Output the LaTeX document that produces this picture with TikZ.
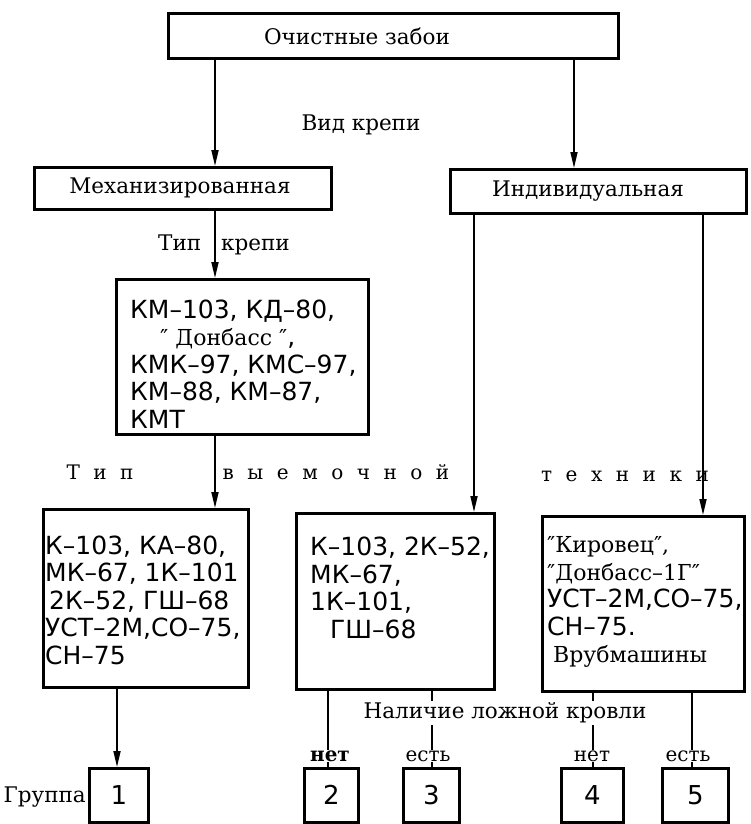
\documentclass[tikz,border=0pt]{standalone}
\usepackage{fontspec}
\setmainfont{DejaVu Serif}
\newfontfamily\lstf{DejaVu Sans}
\usetikzlibrary{arrows.meta}
\newcommand\serw[1]{{\rmfamily\fontsize{22}{27.5}\selectfont #1}}
\newcommand\spset{\spaceskip=13.5pt\relax}
\begin{document}
\begin{tikzpicture}[x=1pt,y=-1pt,
 box/.style={draw, line width=2.6pt, inner sep=0pt, anchor=north west},
 lbl/.style={inner sep=0pt, font=\fontsize{21.5}{26}\selectfont},
 lst/.style={inner sep=0pt, anchor=west, align=left, font=\lstf\fontsize{25}{27.5}\selectfont},
 sp/.style={inner sep=0pt, font=\rmfamily\fontsize{20}{26}\selectfont\spset},
 arr/.style={line width=1.7pt, -{Triangle[length=16pt,width=7pt]}},
 ln/.style={line width=1.6pt},
 num/.style={font=\lstf\fontsize{26}{30}\selectfont, inner sep=0pt},
 yn/.style={font=\fontsize{20}{22}\selectfont, fill=white, inner sep=1pt}
]
\useasboundingbox (0,0) rectangle (750,824);
% boxes
\node[box, minimum width=450pt, minimum height=45pt] (top) at (167,12) {};
\node[box, minimum width=297pt, minimum height=42pt] (mech) at (33,166) {};
\node[box, minimum width=296pt, minimum height=44pt] (ind) at (449,168) {};
\node[box, minimum width=252pt, minimum height=155pt] (km) at (115,278) {};
\node[box, minimum width=205pt, minimum height=178pt] (bl) at (42,508) {};
\node[box, minimum width=198pt, minimum height=176pt] (bm) at (295,512) {};
\node[box, minimum width=202pt, minimum height=175pt] (br) at (541,515) {};
\node[box, minimum width=59pt, minimum height=54pt] (g1) at (88,767) {};
\node[box, minimum width=54pt, minimum height=54pt] (g2) at (303,767) {};
\node[box, minimum width=56pt, minimum height=54pt] (g3) at (402,767) {};
\node[box, minimum width=62pt, minimum height=54pt] (g4) at (560,767) {};
\node[box, minimum width=66pt, minimum height=54pt] (g5) at (661,767) {};
% x positions of connectors
\coordinate (xA) at (215,0);
\coordinate (xB) at (574,0);
\coordinate (xC) at (474,0);
\coordinate (xD) at (703,0);
\coordinate (x1) at (117,0);
\coordinate (x2) at (328,0);
\coordinate (x3) at (432,0);
\coordinate (x4) at (593,0);
\coordinate (x5) at (692,0);
% connectors
\draw[arr] (top.south -| xA) -- (mech.north -| xA);
\draw[arr] (top.south -| xB) -- (ind.north -| xB);
\draw[arr] (mech.south -| xA) -- (km.north -| xA);
\draw[arr] (km.south -| xA) -- (bl.north -| xA);
\draw[arr] (ind.south -| xC) -- (bm.north -| xC);
\draw[arr] (ind.south -| xD) -- (br.north -| xD);
\draw[arr] (bl.south -| x1) -- (g1.north -| x1);
\draw[ln] (bm.south -| x2) -- (g2.north -| x2);
\draw[ln] (bm.south -| x3) -- (g3.north -| x3);
\draw[ln] (br.south -| x4) -- (g4.north -| x4);
\draw[ln] (br.south -| x5) -- (g5.north -| x5);
% texts
\node[lbl] (tTop) at (357,36) {Очистные забои};
\node[lbl] (tVid) at (361,125) {Вид крепи};
\node[lbl] (tMech) at (180,188) {Механизированная};
\node[lbl] (tInd) at (588,191) {Индивидуальная};
\node[lbl] (tTip) at (224,245) {Тип\hspace{20pt}крепи};
\node[sp] (s1) at (100,472) {Т и п};
\node[sp] (s2) at (336,472) {в ы е м о ч н о й};
\node[sp] (s3) at (625,476) {т е х н и к и};
\node[lst] (lKM) at (130,364) {КМ–103, КД–80,\\\hspace{30pt}\serw{″ Донбасс ″},\\КМК–97, КМС–97,\\КМ–88, КМ–87,\\КМТ};
\node[lst] (lL) at (45,600) {К–103, КА–80,\\МК–67, 1К–101\\\hspace{4pt}2К–52,\hspace{8pt}ГШ–68\\УСТ–2М,СО–75,\\СН–75};
\node[lst] (lM) at (310,588) {К–103, 2К–52,\\МК–67,\\1К–101,\\\hspace{20pt}ГШ–68};
\node[lst] (lR) at (547,602) {\serw{″Кировец″,}\\\serw{″Донбасс–1Г″}\\УСТ–2М,СО–75,\\СН–75.\\\hspace{6pt}\serw{Врубмашины}};
\node[num] (n1) at (g1) {1};
\node[num] (n2) at (g2) {2};
\node[num] (n3) at (g3) {3};
\node[num] (n4) at (g4) {4};
\node[num] (n5) at (g5) {5};
\node[lbl, fill=white, inner sep=2pt] (nal) at (505,713) {Наличие ложной кровли};
\node[yn] (no1) at (330,756) {\bfseries нет};
\node[yn] (yes1) at (428,756) {есть};
\node[yn] (no2) at (592,756) {нет};
\node[yn] (yes2) at (688,756) {есть};
\node[lbl, anchor=east] (grp) at (86,797) {Группа};
\end{tikzpicture}
\end{document}
